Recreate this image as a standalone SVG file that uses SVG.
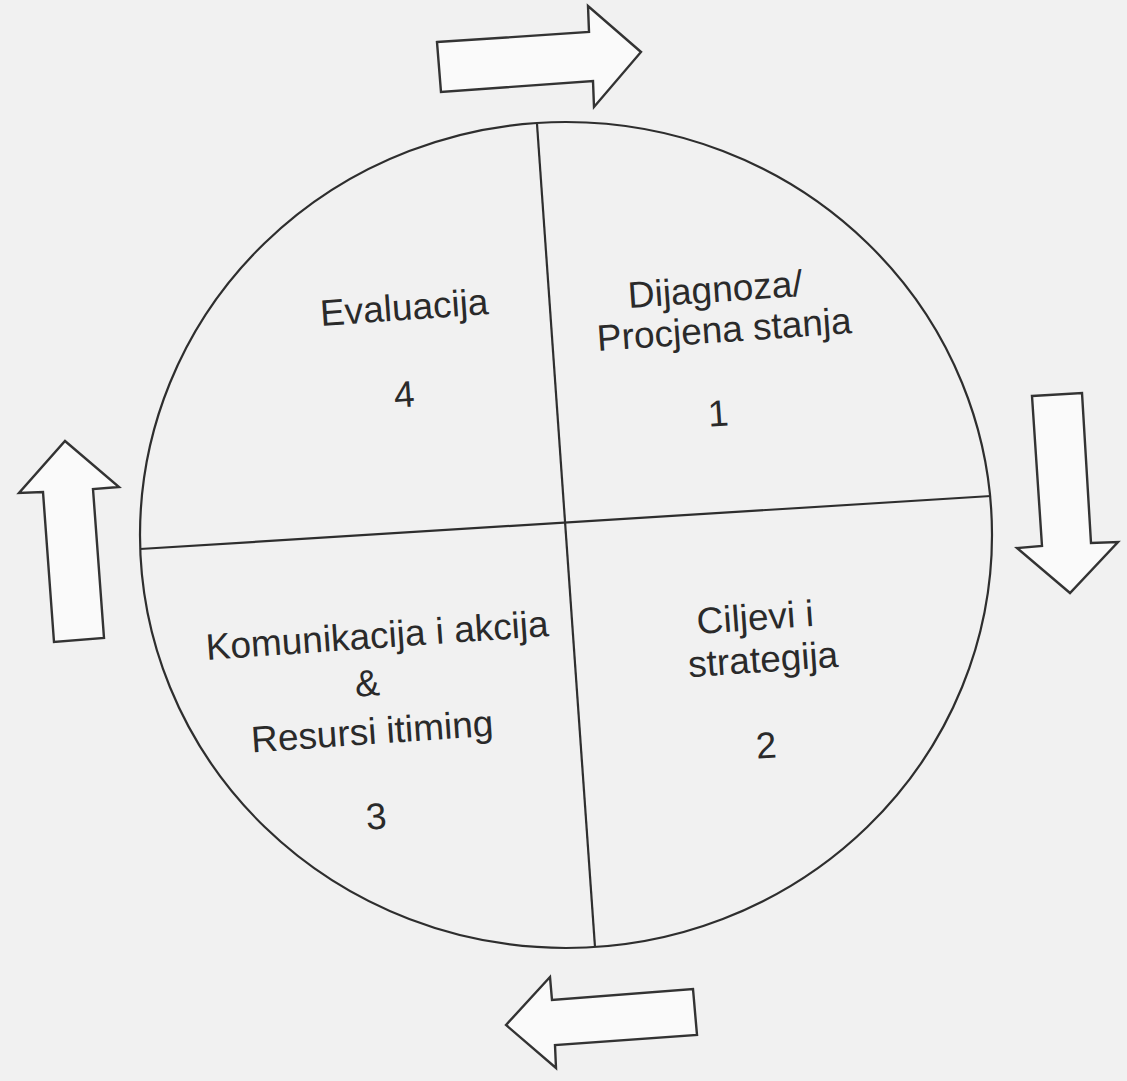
<svg xmlns="http://www.w3.org/2000/svg" width="1127" height="1081" viewBox="0 0 1127 1081">
<style>
.ln{fill:none;stroke:#2e2e2e;stroke-width:2.2}
.ar{fill:#fafafa;stroke:#333;stroke-width:2.4;stroke-linejoin:miter}
.t{font-family:"Liberation Sans",Arial,sans-serif;font-size:37px;fill:#2a2a2a;text-anchor:middle}
</style>
<rect width="1127" height="1081" fill="#f1f1f1"/>
<g id="circle">
<ellipse cx="566" cy="535" rx="426" ry="413" fill="#f7f7f7" class="ln"/>
<line class="ln" x1="537" y1="124" x2="595" y2="947"/>
<line class="ln" x1="140" y1="549" x2="991" y2="496"/>
</g>
<g id="q1">
<text class="t" transform="translate(716,302) rotate(-4)">Dijagnoza/</text>
<text class="t" transform="translate(725,342) rotate(-4)">Procjena stanja</text>
<text class="t" transform="translate(719,426) rotate(-4)">1</text>
</g>
<g id="q2">
<text class="t" transform="translate(756,630) rotate(-4)">Ciljevi i</text>
<text class="t" transform="translate(764,672) rotate(-4)">strategija</text>
<text class="t" transform="translate(767,758) rotate(-4)">2</text>
</g>
<g id="q3">
<text class="t" transform="translate(378,648) rotate(-4)">Komunikacija i akcija</text>
<text class="t" transform="translate(368,696) rotate(-4)">&amp;</text>
<text class="t" transform="translate(373,744) rotate(-4)">Resursi itiming</text>
<text class="t" transform="translate(377,829) rotate(-4)">3</text>
</g>
<g id="q4">
<text class="t" transform="translate(405,320) rotate(-4)">Evaluacija</text>
<text class="t" transform="translate(405,407) rotate(-4)">4</text>
</g>
<g id="connectors">
<polygon class="ar" points="437,42 589,32 588,6 641,52 594,107 593,81 441,92"/>
<polygon class="ar" points="1032,396 1082,393 1091,543 1118,542 1070,593 1017,548 1042,546"/>
<polygon class="ar" points="506,1025 550,977 552,1000 693,989 697,1035 555,1045 556,1068"/>
<polygon class="ar" points="65,441 119,487 93,489 104,638 54,642 43,492 19,493"/>
</g>
</svg>
